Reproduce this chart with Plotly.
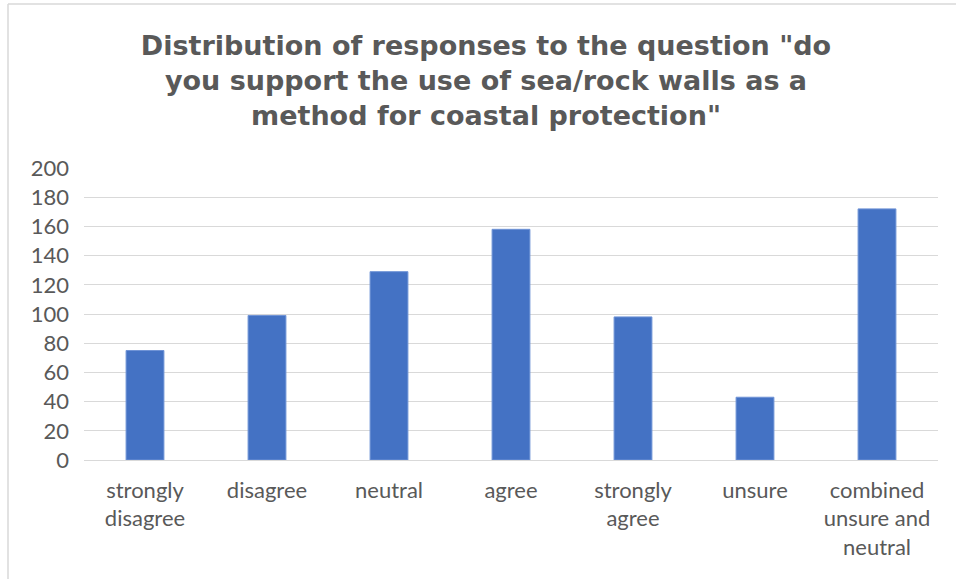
import plotly.graph_objects as go

categories = ["strongly<br>disagree", "disagree", "neutral", "agree",
              "strongly<br>agree", "unsure", "combined<br>unsure and<br>neutral"]
values = [75, 99, 129, 158, 98, 43, 172]
y_ticks = [0, 20, 40, 60, 80, 100, 120, 140, 160, 180, 200]

title_text = ('Distribution of responses to the question "do<br>'
              'you support the use of sea/rock walls as a<br>'
              'method for coastal protection"')

W, H = 956, 579
ML, MR, MT, MB = 84, 18, 168, 119
pw, ph = W - ML - MR, H - MT - MB

fig = go.Figure(go.Bar(
    x=categories, y=values,
    marker=dict(color="#4472C4", line=dict(color="#6F93D6", width=1)),
))

# chart border (left and top edges visible in reference)
bx = (8 - ML) / pw
by = 1 + (MT - 4) / ph
fig.add_shape(type="line", xref="paper", yref="paper", x0=bx, x1=bx, y0=by, y1=-2,
              line=dict(color="#D9D9D9", width=1.5))
fig.add_shape(type="line", xref="paper", yref="paper", x0=bx, x1=3, y0=by, y1=by,
              line=dict(color="#D9D9D9", width=1.5))

fig.update_layout(
    width=W, height=H,
    margin=dict(l=ML, r=MR, t=MT, b=MB),
    paper_bgcolor="white", plot_bgcolor="white",
    bargap=0.69,
    showlegend=False,
    title=dict(text=title_text, x=486 / W, xref="container", xanchor="center",
               y=1 - 55 / H, yref="container", yanchor="top",
               font=dict(family="DejaVu Sans, sans-serif", size=27,
                         color="#595959", weight="bold")),
    font=dict(family="Lato, sans-serif", color="#595959"),
)
fig.update_yaxes(range=[0, 200], tickvals=y_ticks, showgrid=True,
                 gridcolor="#D9D9D9", gridwidth=1.3, zeroline=False,
                 showline=False, ticks="", tickfont=dict(size=22, color="#595959"),
                 ticklabelstandoff=14, fixedrange=True)
fig.update_xaxes(showline=True, linecolor="#D9D9D9", linewidth=1.3, ticks="",
                 tickfont=dict(size=22, color="#595959"), ticklabelstandoff=10,
                 tickangle=0, fixedrange=True)

fig.write_html("out.html", config={"displayModeBar": False},
               post_script="document.body.style.margin='0';")
